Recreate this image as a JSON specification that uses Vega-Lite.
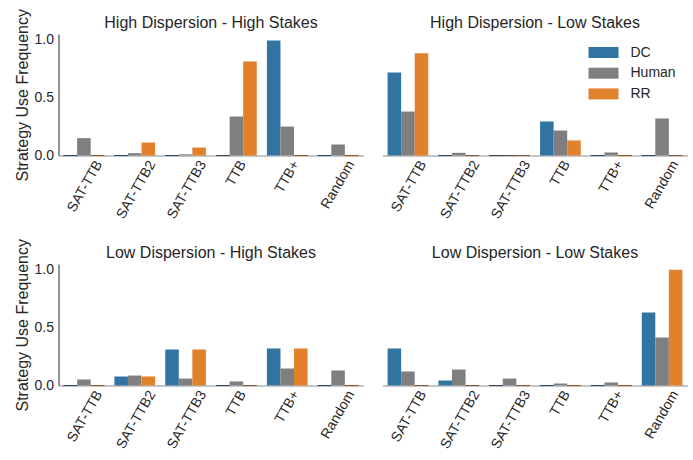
{
  "$schema": "https://vega.github.io/schema/vega-lite/v6.json",
  "background": "white",
  "padding": {"left": 13.5, "top": 8, "right": 0, "bottom": 0},
  "config": {
    "font": "Liberation Sans",
    "view": {"stroke": null},
    "axis": {"grid": false, "ticks": false, "labelColor": "#262626", "titleColor": "#262626", "labelFont": "Liberation Sans", "titleFont": "Liberation Sans"}
  },
  "data": {"values": [
    {"panel": "High Dispersion - High Stakes", "strategy": "SAT-TTB", "agent": "DC", "value": 0},
    {"panel": "High Dispersion - High Stakes", "strategy": "SAT-TTB", "agent": "Human", "value": 0.15},
    {"panel": "High Dispersion - High Stakes", "strategy": "SAT-TTB", "agent": "RR", "value": 0},
    {"panel": "High Dispersion - High Stakes", "strategy": "SAT-TTB2", "agent": "DC", "value": 0},
    {"panel": "High Dispersion - High Stakes", "strategy": "SAT-TTB2", "agent": "Human", "value": 0.02},
    {"panel": "High Dispersion - High Stakes", "strategy": "SAT-TTB2", "agent": "RR", "value": 0.112},
    {"panel": "High Dispersion - High Stakes", "strategy": "SAT-TTB3", "agent": "DC", "value": 0},
    {"panel": "High Dispersion - High Stakes", "strategy": "SAT-TTB3", "agent": "Human", "value": 0.01},
    {"panel": "High Dispersion - High Stakes", "strategy": "SAT-TTB3", "agent": "RR", "value": 0.069},
    {"panel": "High Dispersion - High Stakes", "strategy": "TTB", "agent": "DC", "value": 0},
    {"panel": "High Dispersion - High Stakes", "strategy": "TTB", "agent": "Human", "value": 0.337},
    {"panel": "High Dispersion - High Stakes", "strategy": "TTB", "agent": "RR", "value": 0.812},
    {"panel": "High Dispersion - High Stakes", "strategy": "TTB+", "agent": "DC", "value": 0.994},
    {"panel": "High Dispersion - High Stakes", "strategy": "TTB+", "agent": "Human", "value": 0.25},
    {"panel": "High Dispersion - High Stakes", "strategy": "TTB+", "agent": "RR", "value": 0},
    {"panel": "High Dispersion - High Stakes", "strategy": "Random", "agent": "DC", "value": 0},
    {"panel": "High Dispersion - High Stakes", "strategy": "Random", "agent": "Human", "value": 0.095},
    {"panel": "High Dispersion - High Stakes", "strategy": "Random", "agent": "RR", "value": 0},
    {"panel": "High Dispersion - Low Stakes", "strategy": "SAT-TTB", "agent": "DC", "value": 0.717},
    {"panel": "High Dispersion - Low Stakes", "strategy": "SAT-TTB", "agent": "Human", "value": 0.38},
    {"panel": "High Dispersion - Low Stakes", "strategy": "SAT-TTB", "agent": "RR", "value": 0.884},
    {"panel": "High Dispersion - Low Stakes", "strategy": "SAT-TTB2", "agent": "DC", "value": 0},
    {"panel": "High Dispersion - Low Stakes", "strategy": "SAT-TTB2", "agent": "Human", "value": 0.023},
    {"panel": "High Dispersion - Low Stakes", "strategy": "SAT-TTB2", "agent": "RR", "value": 0},
    {"panel": "High Dispersion - Low Stakes", "strategy": "SAT-TTB3", "agent": "DC", "value": 0},
    {"panel": "High Dispersion - Low Stakes", "strategy": "SAT-TTB3", "agent": "Human", "value": 0},
    {"panel": "High Dispersion - Low Stakes", "strategy": "SAT-TTB3", "agent": "RR", "value": 0},
    {"panel": "High Dispersion - Low Stakes", "strategy": "TTB", "agent": "DC", "value": 0.294},
    {"panel": "High Dispersion - Low Stakes", "strategy": "TTB", "agent": "Human", "value": 0.216},
    {"panel": "High Dispersion - Low Stakes", "strategy": "TTB", "agent": "RR", "value": 0.13},
    {"panel": "High Dispersion - Low Stakes", "strategy": "TTB+", "agent": "DC", "value": 0},
    {"panel": "High Dispersion - Low Stakes", "strategy": "TTB+", "agent": "Human", "value": 0.026},
    {"panel": "High Dispersion - Low Stakes", "strategy": "TTB+", "agent": "RR", "value": 0},
    {"panel": "High Dispersion - Low Stakes", "strategy": "Random", "agent": "DC", "value": 0},
    {"panel": "High Dispersion - Low Stakes", "strategy": "Random", "agent": "Human", "value": 0.32},
    {"panel": "High Dispersion - Low Stakes", "strategy": "Random", "agent": "RR", "value": 0},
    {"panel": "Low Dispersion - High Stakes", "strategy": "SAT-TTB", "agent": "DC", "value": 0},
    {"panel": "Low Dispersion - High Stakes", "strategy": "SAT-TTB", "agent": "Human", "value": 0.052},
    {"panel": "Low Dispersion - High Stakes", "strategy": "SAT-TTB", "agent": "RR", "value": 0},
    {"panel": "Low Dispersion - High Stakes", "strategy": "SAT-TTB2", "agent": "DC", "value": 0.078},
    {"panel": "Low Dispersion - High Stakes", "strategy": "SAT-TTB2", "agent": "Human", "value": 0.086},
    {"panel": "Low Dispersion - High Stakes", "strategy": "SAT-TTB2", "agent": "RR", "value": 0.078},
    {"panel": "Low Dispersion - High Stakes", "strategy": "SAT-TTB3", "agent": "DC", "value": 0.311},
    {"panel": "Low Dispersion - High Stakes", "strategy": "SAT-TTB3", "agent": "Human", "value": 0.06},
    {"panel": "Low Dispersion - High Stakes", "strategy": "SAT-TTB3", "agent": "RR", "value": 0.311},
    {"panel": "Low Dispersion - High Stakes", "strategy": "TTB", "agent": "DC", "value": 0},
    {"panel": "Low Dispersion - High Stakes", "strategy": "TTB", "agent": "Human", "value": 0.035},
    {"panel": "Low Dispersion - High Stakes", "strategy": "TTB", "agent": "RR", "value": 0},
    {"panel": "Low Dispersion - High Stakes", "strategy": "TTB+", "agent": "DC", "value": 0.32},
    {"panel": "Low Dispersion - High Stakes", "strategy": "TTB+", "agent": "Human", "value": 0.147},
    {"panel": "Low Dispersion - High Stakes", "strategy": "TTB+", "agent": "RR", "value": 0.32},
    {"panel": "Low Dispersion - High Stakes", "strategy": "Random", "agent": "DC", "value": 0},
    {"panel": "Low Dispersion - High Stakes", "strategy": "Random", "agent": "Human", "value": 0.13},
    {"panel": "Low Dispersion - High Stakes", "strategy": "Random", "agent": "RR", "value": 0},
    {"panel": "Low Dispersion - Low Stakes", "strategy": "SAT-TTB", "agent": "DC", "value": 0.32},
    {"panel": "Low Dispersion - Low Stakes", "strategy": "SAT-TTB", "agent": "Human", "value": 0.121},
    {"panel": "Low Dispersion - Low Stakes", "strategy": "SAT-TTB", "agent": "RR", "value": 0},
    {"panel": "Low Dispersion - Low Stakes", "strategy": "SAT-TTB2", "agent": "DC", "value": 0.043},
    {"panel": "Low Dispersion - Low Stakes", "strategy": "SAT-TTB2", "agent": "Human", "value": 0.138},
    {"panel": "Low Dispersion - Low Stakes", "strategy": "SAT-TTB2", "agent": "RR", "value": 0},
    {"panel": "Low Dispersion - Low Stakes", "strategy": "SAT-TTB3", "agent": "DC", "value": 0},
    {"panel": "Low Dispersion - Low Stakes", "strategy": "SAT-TTB3", "agent": "Human", "value": 0.06},
    {"panel": "Low Dispersion - Low Stakes", "strategy": "SAT-TTB3", "agent": "RR", "value": 0},
    {"panel": "Low Dispersion - Low Stakes", "strategy": "TTB", "agent": "DC", "value": 0},
    {"panel": "Low Dispersion - Low Stakes", "strategy": "TTB", "agent": "Human", "value": 0.017},
    {"panel": "Low Dispersion - Low Stakes", "strategy": "TTB", "agent": "RR", "value": 0},
    {"panel": "Low Dispersion - Low Stakes", "strategy": "TTB+", "agent": "DC", "value": 0},
    {"panel": "Low Dispersion - Low Stakes", "strategy": "TTB+", "agent": "Human", "value": 0.026},
    {"panel": "Low Dispersion - Low Stakes", "strategy": "TTB+", "agent": "RR", "value": 0},
    {"panel": "Low Dispersion - Low Stakes", "strategy": "Random", "agent": "DC", "value": 0.631},
    {"panel": "Low Dispersion - Low Stakes", "strategy": "Random", "agent": "Human", "value": 0.415},
    {"panel": "Low Dispersion - Low Stakes", "strategy": "Random", "agent": "RR", "value": 1.0}
  ]},
  "facet": {
    "field": "panel", "type": "nominal",
    "sort": ["High Dispersion - High Stakes", "High Dispersion - Low Stakes", "Low Dispersion - High Stakes", "Low Dispersion - Low Stakes"],
    "header": {"title": null, "labelFontSize": 16, "labelColor": "#262626", "labelFont": "Liberation Sans", "labelPadding": 3}
  },
  "columns": 2,
  "spacing": {"column": 19, "row": 24},
  "resolve": {"axis": {"x": "independent"}},
  "spec": {
    "width": 305,
    "height": 121.5,
    "mark": {"type": "bar"},
    "encoding": {
      "x": {
        "field": "strategy", "type": "nominal",
        "sort": ["SAT-TTB", "SAT-TTB2", "SAT-TTB3", "TTB", "TTB+", "Random"],
        "scale": {"paddingInner": 0.2, "paddingOuter": 0.1},
        "axis": {"title": null, "labelAngle": -60, "labelAlign": "right", "labelBaseline": "middle", "labelFontSize": 14, "labelPadding": 6, "labelOffset": {"expr": "2.2 * length(datum.label)"}, "domainColor": "#8c8c8c", "domainWidth": 1}
      },
      "xOffset": {"field": "agent", "type": "nominal", "sort": ["DC", "Human", "RR"], "scale": {"paddingInner": 0, "paddingOuter": 0}},
      "y": {
        "field": "value", "type": "quantitative",
        "scale": {"domain": [0, 1.05], "nice": false},
        "axis": {"title": "Strategy Use Frequency", "values": [0, 0.5, 1], "format": ".1f", "labelFontSize": 14, "titleFontSize": 16, "titleFontWeight": "normal", "labelPadding": 5, "titlePadding": 4, "domainColor": "#262626", "domainWidth": 1}
      },
      "color": {
        "field": "agent", "type": "nominal",
        "scale": {"domain": ["DC", "Human", "RR"], "range": ["#3274a1", "#7f7f7f", "#e1812c"]},
        "legend": {"title": null, "orient": "none", "legendX": 537.5, "legendY": 11, "labelFontSize": 14, "labelColor": "#262626", "symbolType": "M-2,-0.733H2V0.733H-2Z", "symbolSize": 225, "symbolStrokeWidth": 0, "rowPadding": 5.7, "labelOffset": 19.5}
      },
      "stroke": {
        "field": "agent", "type": "nominal",
        "scale": {"domain": ["DC", "Human", "RR"], "range": ["#2b4a66", "#555555", "#8a5a30"]},
        "legend": null
      },
      "strokeWidth": {"condition": {"test": "datum.value == 0", "value": 1}, "value": 0}
    }
  }
}
